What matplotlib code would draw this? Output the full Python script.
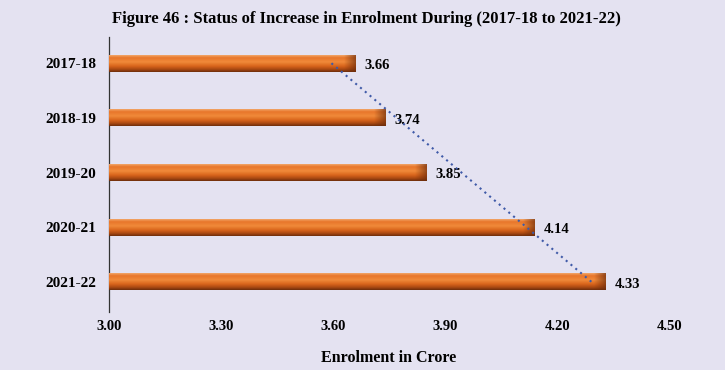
import numpy as np
import matplotlib.pyplot as plt
from matplotlib.colors import LinearSegmentedColormap

years = ['2017-18', '2018-19', '2019-20', '2020-21', '2021-22']
enrolment = [3.66, 3.74, 3.85, 4.14, 4.33]
xticks = [3.00, 3.30, 3.60, 3.90, 4.20, 4.50]

bg = '#e4e2f1'
plt.rcParams['font.family'] = ['Liberation Serif', 'DejaVu Serif']
plt.rcParams['font.weight'] = 'bold'

fig = plt.figure(figsize=(7.25, 3.7), dpi=100, facecolor=bg)
ax = fig.add_axes([0.150, 0.157, 0.773, 0.743], facecolor=bg)

y = np.arange(len(years))
bars = ax.barh(y, [v - 3.0 for v in enrolment], left=3.0, height=0.31,
               color='#e0701f', edgecolor='none', zorder=2)

# fake 3D bevel: vertical gradient clipped to each bar (light top, dark bottom)
cmap = LinearSegmentedColormap.from_list('bevel', [
    (0.0, '#f2a66a'), (0.15, '#e8762a'), (0.4, '#f08a3a'),
    (0.65, '#d9651c'), (0.85, '#a84812'), (1.0, '#6e2e0c')])
grad = np.linspace(0, 1, 64).reshape(-1, 1)
cap = np.linspace(0, 1, 32).reshape(1, -1)
capmap = LinearSegmentedColormap.from_list('cap', [(0, (0.43, 0.18, 0.05, 0.0)),
                                                  (1, (0.43, 0.18, 0.05, 0.7))])
for b in bars:
    x0, y0, w, h = b.get_x(), b.get_y(), b.get_width(), b.get_height()
    im = ax.imshow(grad, cmap=cmap, aspect='auto', zorder=3, origin='upper',
                   extent=[x0, x0 + w, y0 + h, y0], interpolation='bilinear')
    im.set_clip_path(b)
    # darker right end cap
    im2 = ax.imshow(cap, cmap=capmap, aspect='auto', zorder=4,
                    extent=[x0 + w - 0.03, x0 + w, y0 + h, y0], interpolation='bilinear')
    im2.set_clip_path(b)
    ax.text(x0 + w + 0.025, y0 + h / 2 + 0.04, '%.2f' % (x0 + w),
            ha='left', va='center', fontsize=10.5, fontweight='bold', zorder=5)

# linear trendline over the categories
idx = np.arange(1, len(enrolment) + 1)
slope, icpt = np.polyfit(idx, enrolment, 1)
trend = slope * idx + icpt
ax.plot(trend, y, linestyle=(0, (1, 2)), color='#3f5aa8', lw=1.5, zorder=6)

ax.set_xlim(3.0, 4.5)
ax.set_ylim(4.55, -0.48)
ax.set_xticks(xticks)
ax.set_xticklabels(['%.2f' % t for t in xticks], fontsize=10.5, fontweight='bold')
ax.set_yticks(y)
ax.set_yticklabels(years, fontsize=11, fontweight='bold')
ax.tick_params(axis='both', length=0)
ax.tick_params(axis='x', pad=6)
ax.tick_params(axis='y', pad=9)
for s in ['top', 'right', 'bottom']:
    ax.spines[s].set_visible(False)
ax.spines['left'].set_color('#333333')
ax.spines['left'].set_linewidth(0.9)

ax.set_xlabel('Enrolment in Crore', fontsize=11.5, fontweight='bold', labelpad=12)
fig.suptitle('Figure 46 : Status of Increase in Enrolment During (2017-18 to 2021-22)',
             fontsize=12, fontweight='bold', x=0.505, y=0.97)

fig.savefig('out.png', dpi=100, facecolor=bg)
